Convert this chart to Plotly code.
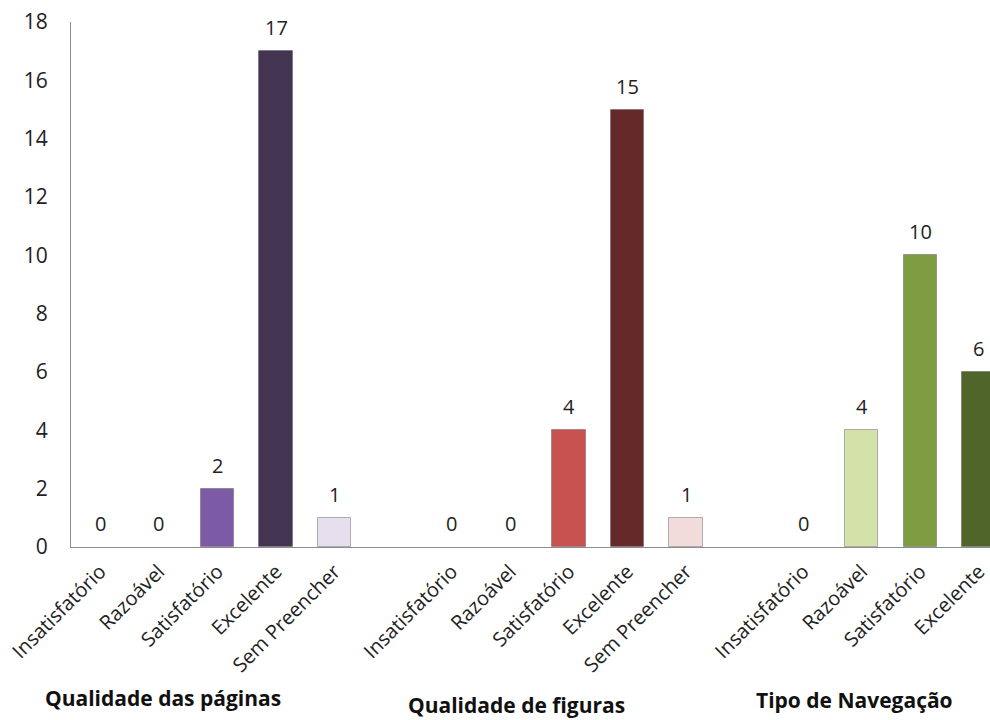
import plotly.graph_objects as go

categories_1 = ["Insatisfatório", "Razoável", "Satisfatório", "Excelente", "Sem Preencher"]
values_1 = [0, 0, 2, 17, 1]
colors_1 = ["#8064a2", "#8064a2", "#7d5aa6", "#433552", "#e6e0ee"]

categories_2 = ["Insatisfatório", "Razoável", "Satisfatório", "Excelente", "Sem Preencher"]
values_2 = [0, 0, 4, 15, 1]
colors_2 = ["#c0504d", "#c0504d", "#c85250", "#652929", "#f2dcdb"]

categories_3 = ["Insatisfatório", "Razoável", "Satisfatório", "Excelente"]
values_3 = [0, 4, 10, 6]
colors_3 = ["#9bbb59", "#d3e2a8", "#7e9c42", "#50652a"]

group_titles = ["Qualidade das páginas", "Qualidade de figuras", "Tipo de Navegação"]
y_ticks = list(range(0, 19, 2))

groups = [(categories_1, values_1, colors_1),
          (categories_2, values_2, colors_2),
          (categories_3, values_3, colors_3)]

FONT = "Open Sans"
fig = go.Figure()
xs_all, labels_all = [], []
pos = 0
for cats, vals, cols in groups:
    xs = list(range(pos, pos + len(cats)))
    line_cols = ["rgba(90,90,90,0.45)" if v > 0 else "rgba(0,0,0,0)" for v in vals]
    fig.add_trace(go.Bar(
        x=xs, y=vals,
        marker=dict(color=cols, line=dict(color=line_cols, width=1)),
        width=0.57, showlegend=False, hoverinfo="x+y"))
    for x, v in zip(xs, vals):
        fig.add_annotation(x=x, y=v, text=str(v), showarrow=False,
                           xanchor="center", yanchor="bottom", yshift=8,
                           font=dict(family=FONT, size=20, color="#222222"))
    xs_all += xs
    labels_all += cats
    pos += len(cats) + 1

L, R, T, B = 71, 0, 22, 173
W, H = 990, 720
fig.update_layout(
    width=W, height=H,
    margin=dict(l=L, r=R, t=T, b=B),
    plot_bgcolor="white", paper_bgcolor="white",
    font=dict(family=FONT, color="#222222"),
    bargap=0,
)
fig.update_xaxes(
    range=[-0.5, 15.19], tickmode="array", tickvals=xs_all, ticktext=labels_all,
    tickangle=-45, tickfont=dict(family=FONT, size=20, color="#222222"),
    showline=True, linecolor="#8c8c8c", linewidth=1, showgrid=False,
    zeroline=False, ticks="", ticklabelstandoff=4, ticklabeloverflow="allow")
fig.update_yaxes(
    range=[0, 18], tickmode="array", tickvals=y_ticks,
    tickfont=dict(family=FONT, size=21, color="#222222"),
    showline=True, linecolor="#8c8c8c", linewidth=1, showgrid=False,
    zeroline=False, ticks="", ticklabelstandoff=18)

plot_w = W - L - R
plot_h = H - T - B
title_x = [163, 516, 854]
title_y = [698, 705, 700]
for t, px, py in zip(group_titles, title_x, title_y):
    fig.add_annotation(text=f"<b>{t}</b>", x=(px - L) / plot_w, y=-(py - (H - B)) / plot_h,
                       xref="paper", yref="paper", showarrow=False,
                       xanchor="center", yanchor="middle",
                       font=dict(family=FONT, size=21, color="#111111"))

fig.write_html("out.html")
